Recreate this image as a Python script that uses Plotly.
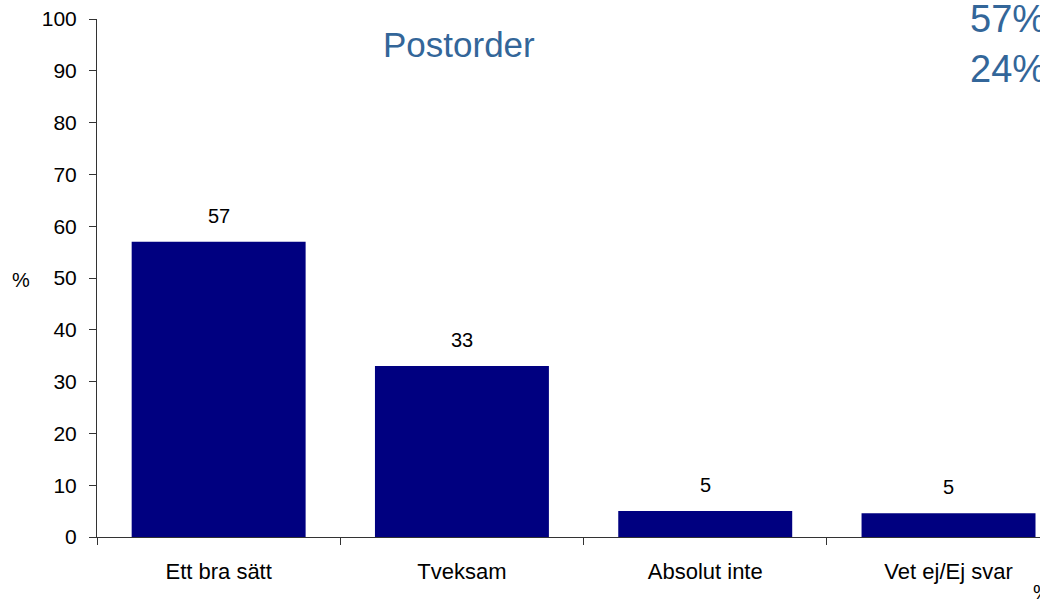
import plotly.graph_objects as go

categories = ["Ett bra sätt", "Tveksam", "Absolut inte", "Vet ej/Ej svar"]
values = [57, 33, 5, 4.6]
labels = [str(round(v)) for v in values]
y_ticks = list(range(0, 101, 10))

title_text = "Postorder"
side_texts = ["57%", "24%"]

FONT = "Liberation Sans, Arial, sans-serif"
BAR_COLOR = "#000080"
TITLE_COLOR = "#336699"

fig = go.Figure()
fig.add_trace(go.Bar(
    x=categories,
    y=values,
    marker=dict(color=BAR_COLOR, line=dict(width=0)),
    width=0.715,
    hoverinfo="x+y",
))

annotations = []
for c, v, t in zip(categories, values, labels):
    annotations.append(dict(
        x=c, y=v, xref="x", yref="y", text=t, showarrow=False,
        yanchor="bottom", yshift=13,
        font=dict(family=FONT, size=20, color="black"),
    ))

annotations.append(dict(
    x=0.384, y=0.95, xref="paper", yref="paper", text=title_text,
    showarrow=False, xanchor="center", yanchor="middle",
    font=dict(family=FONT, size=35, color=TITLE_COLOR),
))
for i, s in enumerate(side_texts):
    annotations.append(dict(
        x=0.9236, y=1.0 - i * 0.097, xref="paper", yref="paper", text=s,
        showarrow=False, xanchor="left", yanchor="middle",
        font=dict(family=FONT, size=38, color=TITLE_COLOR),
    ))
annotations.append(dict(
    x=-0.092, y=0.496, xref="paper", yref="paper", text="%",
    showarrow=False, xanchor="left", yanchor="middle",
    font=dict(family=FONT, size=20, color="black"),
))
annotations.append(dict(
    x=0.9905, y=-0.107, xref="paper", yref="paper", text="%",
    showarrow=False, xanchor="left", yanchor="middle",
    font=dict(family=FONT, size=20, color="black"),
))

fig.update_layout(
    width=1040, height=601,
    margin=dict(l=97, r=0, t=19, b=64, pad=0),
    paper_bgcolor="white", plot_bgcolor="white",
    showlegend=False,
    annotations=annotations,
    font=dict(family=FONT, color="black"),
)
fig.update_xaxes(
    type="category",
    range=[-0.5, 3.376],
    tickson="boundaries",
    ticks="outside", ticklen=7, tickcolor="#333333", tickwidth=1,
    showline=True, linecolor="#333333", linewidth=1,
    showgrid=False, zeroline=False,
    tickfont=dict(family=FONT, size=22, color="black"),
    ticklabelstandoff=15,
)
fig.update_yaxes(
    range=[0, 100],
    tickvals=y_ticks,
    ticks="outside", ticklen=7, tickcolor="#333333", tickwidth=1,
    showline=True, linecolor="#333333", linewidth=1,
    showgrid=False, zeroline=False,
    tickfont=dict(family=FONT, size=21, color="black"),
    ticklabelstandoff=8,
)

fig.write_html(
    "out.html",
    config={"displayModeBar": False},
    post_script="document.body.style.margin='0';document.body.style.overflow='hidden';",
)
